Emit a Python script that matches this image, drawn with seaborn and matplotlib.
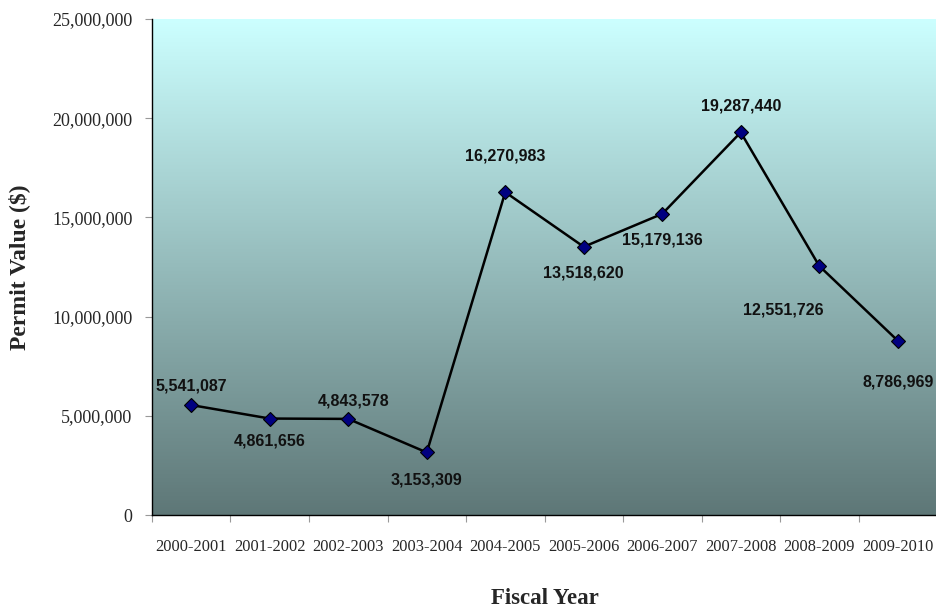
import numpy as np
import pandas as pd
import matplotlib
matplotlib.use("Agg")
import matplotlib.pyplot as plt
from matplotlib.colors import LinearSegmentedColormap
from matplotlib.ticker import FuncFormatter, FixedLocator
import seaborn as sns

fiscal_years = ["2000-2001", "2001-2002", "2002-2003", "2003-2004", "2004-2005",
                "2005-2006", "2006-2007", "2007-2008", "2008-2009", "2009-2010"]
permit_values = [5541087, 4861656, 4843578, 3153309, 16270983,
                 13518620, 15179136, 19287440, 12551726, 8786969]
y_ticks = [0, 5000000, 10000000, 15000000, 20000000, 25000000]

# label offsets in points (dx, dy) relative to each marker
label_offsets = [(0, 14), (0, -16), (4, 13), (0, -20), (0, 26),
                 (0, -19), (0, -19), (0, 19), (-26, -32), (0, -30)]

sns.set_theme(style="white")
plt.rcParams["font.family"] = ["Liberation Serif", "DejaVu Serif"]

df = pd.DataFrame({"year": fiscal_years, "value": permit_values})

fig = plt.figure(figsize=(9.37, 6.12), dpi=100)
ax = fig.add_axes([152 / 937, 1 - 515 / 612, (937 - 152) / 937, (515 - 19) / 612])

# vertical gradient background of the plotting area
grad = LinearSegmentedColormap.from_list("bg", ["#5e7777", "#ccffff"])
ax.imshow(np.linspace(0, 1, 256).reshape(-1, 1), cmap=grad, origin="lower",
          aspect="auto", extent=(-0.5, 9.5, 0, 25000000), zorder=0)

sns.lineplot(data=df, x="year", y="value", ax=ax, color="black", linewidth=1.8,
             marker="D", markersize=7, markerfacecolor="#000080",
             markeredgecolor="black", markeredgewidth=0.8, sort=False, zorder=3)

for i, (v, (dx, dy)) in enumerate(zip(permit_values, label_offsets)):
    ax.annotate(f"{v:,}", (i, v), xytext=(dx, dy), textcoords="offset points",
                ha="center", va="center", fontsize=11.5, fontweight="bold",
                family=["Liberation Sans", "DejaVu Sans"], color="#111111", zorder=4)

ax.set_xlim(-0.5, 9.5)
ax.set_ylim(0, 25000000)
ax.set_yticks(y_ticks)
ax.yaxis.set_major_formatter(FuncFormatter(lambda v, p: f"{int(v):,}"))
ax.set_xticks(range(len(fiscal_years)))
ax.set_xticklabels(fiscal_years)
ax.xaxis.set_minor_locator(FixedLocator(np.arange(-0.5, 10, 1.0)))

ax.tick_params(axis="y", which="major", direction="out", length=5, width=0.8,
               color="#999999", labelsize=13, pad=9, left=True)
ax.tick_params(axis="x", which="major", length=0, labelsize=11.8, pad=17)
ax.tick_params(axis="x", which="minor", direction="out", length=5, width=0.8,
               color="#999999", bottom=True)

for side in ["top", "right"]:
    ax.spines[side].set_visible(False)
for side in ["left", "bottom"]:
    ax.spines[side].set_color("black")
    ax.spines[side].set_linewidth(1.0)

ax.set_xlabel("Fiscal Year", fontsize=16.5, fontweight="bold", labelpad=24)
ax.set_ylabel("Permit Value ($)", fontsize=17, fontweight="bold", labelpad=16)
ax.grid(False)

fig.savefig("out.png", dpi=100)
